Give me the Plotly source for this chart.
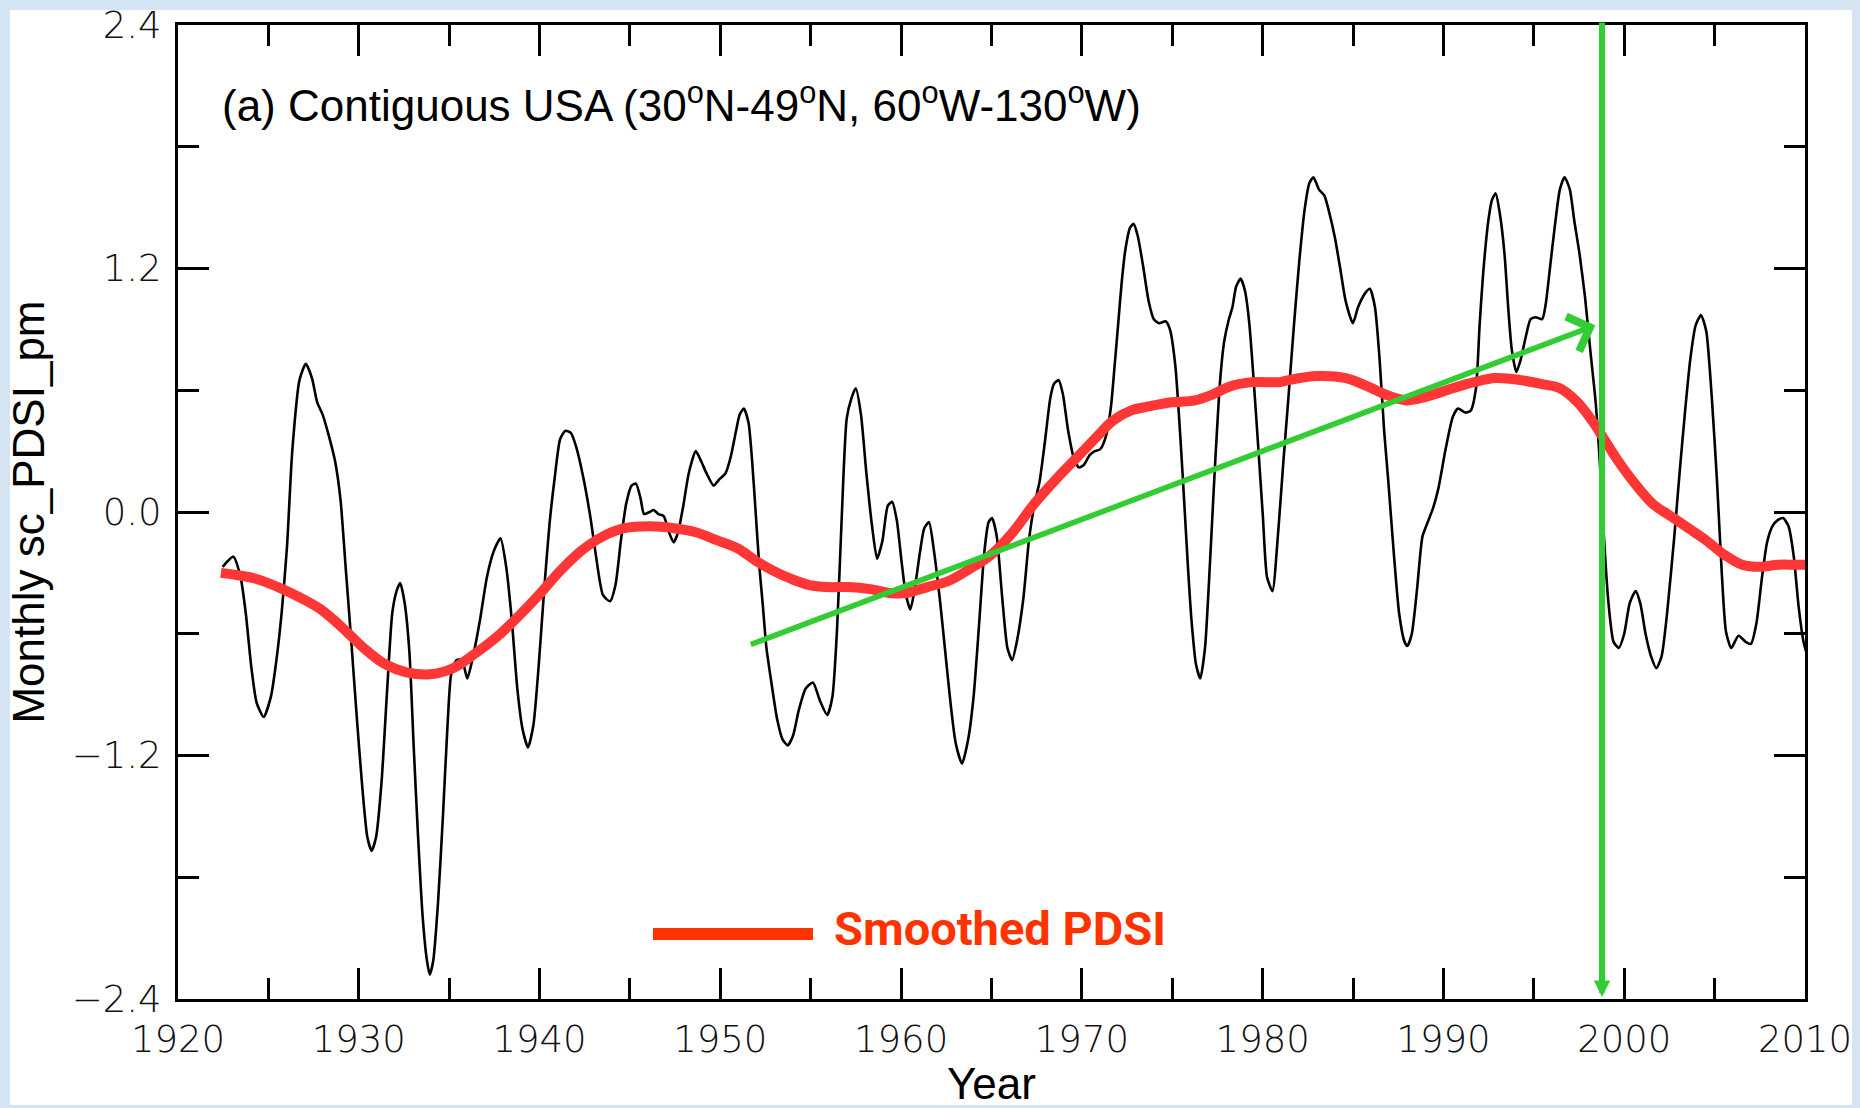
import plotly.graph_objects as go

# ---------------- data ----------------
pdsi_years = [
    1922.47, 1923.06, 1923.46, 1923.75, 1924.05, 1924.35, 1924.74, 1925.14, 1925.43, 1925.73,
    1926.03, 1926.32, 1926.72, 1927.07, 1927.41, 1927.70, 1928.00, 1928.30, 1928.69, 1928.99,
    1929.28, 1929.58, 1929.88, 1930.17, 1930.47, 1930.71, 1930.96, 1931.26, 1931.56, 1931.85,
    1932.09, 1932.29, 1932.54, 1932.80, 1933.04, 1933.28, 1933.53, 1933.77, 1933.93, 1934.12,
    1934.38, 1934.66, 1934.91, 1935.11, 1935.41, 1935.71, 1936.00, 1936.30, 1936.69, 1937.09,
    1937.48, 1937.84, 1938.17, 1938.47, 1938.77, 1939.06, 1939.36, 1939.66, 1939.95, 1940.25,
    1940.55, 1940.84, 1941.14, 1941.43, 1941.73, 1942.03, 1942.42, 1942.82, 1943.11, 1943.51,
    1943.90, 1944.20, 1944.50, 1944.79, 1945.09, 1945.33, 1945.58, 1945.78, 1946.08, 1946.31,
    1946.57, 1946.87, 1947.16, 1947.42, 1947.66, 1947.95, 1948.25, 1948.64, 1948.94, 1949.24,
    1949.63, 1949.93, 1950.28, 1950.57, 1950.87, 1951.07, 1951.30, 1951.56, 1951.76, 1951.96,
    1952.15, 1952.35, 1952.55, 1952.84, 1953.14, 1953.44, 1953.73, 1954.03, 1954.33, 1954.72,
    1955.12, 1955.51, 1955.91, 1956.20, 1956.46, 1956.70, 1956.99, 1957.25, 1957.49, 1957.78,
    1958.08, 1958.38, 1958.67, 1958.97, 1959.26, 1959.50, 1959.76, 1960.02, 1960.25, 1960.51,
    1960.75, 1961.04, 1961.28, 1961.54, 1961.83, 1962.13, 1962.42, 1962.72, 1963.02, 1963.37,
    1963.71, 1964.01, 1964.30, 1964.60, 1964.84, 1965.03, 1965.29, 1965.59, 1965.88, 1966.14,
    1966.42, 1966.77, 1967.07, 1967.36, 1967.66, 1967.96, 1968.25, 1968.45, 1968.71, 1968.95,
    1969.24, 1969.54, 1969.83, 1970.09, 1970.43, 1970.72, 1971.02, 1971.32, 1971.61, 1971.81,
    1972.01, 1972.20, 1972.40, 1972.66, 1972.86, 1973.09, 1973.39, 1973.69, 1973.98, 1974.28,
    1974.63, 1974.87, 1975.17, 1975.46, 1975.66, 1975.86, 1976.06, 1976.31, 1976.55, 1976.81,
    1977.08, 1977.34, 1977.64, 1977.87, 1978.13, 1978.33, 1978.53, 1978.78, 1979.02, 1979.26,
    1979.51, 1979.77, 1980.01, 1980.24, 1980.54, 1980.84, 1981.13, 1981.43, 1981.73, 1982.02,
    1982.32, 1982.58, 1982.81, 1983.11, 1983.41, 1983.70, 1984.00, 1984.29, 1984.59, 1984.99,
    1985.28, 1985.68, 1985.93, 1986.21, 1986.47, 1986.72, 1986.96, 1987.26, 1987.55, 1987.85,
    1988.01, 1988.25, 1988.54, 1988.84, 1989.13, 1989.43, 1989.73, 1990.12, 1990.52, 1990.81,
    1991.21, 1991.51, 1991.80, 1992.00, 1992.20, 1992.49, 1992.69, 1992.89, 1993.12, 1993.38,
    1993.58, 1993.78, 1994.03, 1994.27, 1994.57, 1994.82, 1995.10, 1995.46, 1995.65, 1995.89,
    1996.15, 1996.44, 1996.70, 1996.99, 1997.23, 1997.53, 1997.83, 1998.12, 1998.42, 1998.66,
    1998.85, 1999.11, 1999.41, 1999.70, 2000.00, 2000.30, 2000.63, 2000.89, 2001.18, 2001.48,
    2001.78, 2002.07, 2002.37, 2002.77, 2003.06, 2003.36, 2003.65, 2003.95, 2004.25, 2004.54,
    2004.84, 2005.14, 2005.39, 2005.63, 2005.92, 2006.32, 2006.72, 2007.01, 2007.31, 2007.61,
    2007.90, 2008.20, 2008.49, 2008.79, 2009.09, 2009.38, 2009.64, 2009.92, 2010.18, 2010.43,
]
pdsi_values = [
    -0.27, -0.22, -0.32, -0.50, -0.76, -0.94, -1.01, -0.91, -0.74, -0.50,
    -0.17, 0.30, 0.65, 0.73, 0.66, 0.54, 0.48, 0.39, 0.25, 0.06,
    -0.28, -0.63, -1.00, -1.33, -1.60, -1.67, -1.60, -1.33, -0.89, -0.50,
    -0.39, -0.35, -0.45, -0.69, -1.16, -1.60, -1.99, -2.21, -2.28, -2.21,
    -1.93, -1.49, -1.05, -0.80, -0.73, -0.73, -0.82, -0.72, -0.54, -0.32,
    -0.19, -0.13, -0.28, -0.54, -0.87, -1.07, -1.16, -1.05, -0.76, -0.39,
    -0.06, 0.17, 0.36, 0.40, 0.39, 0.32, 0.17, -0.03, -0.21, -0.41,
    -0.44, -0.36, -0.14, 0.04, 0.13, 0.14, 0.07, -0.01, 0.00, 0.01,
    -0.01, -0.02, -0.10, -0.15, -0.10, 0.03, 0.19, 0.30, 0.25, 0.19,
    0.13, 0.16, 0.19, 0.27, 0.40, 0.48, 0.51, 0.44, 0.25, -0.01,
    -0.26, -0.46, -0.67, -0.85, -1.02, -1.12, -1.15, -1.10, -0.98, -0.87,
    -0.84, -0.93, -1.00, -0.91, -0.57, -0.06, 0.46, 0.56, 0.61, 0.48,
    0.19, -0.06, -0.23, -0.14, 0.03, 0.05, -0.04, -0.24, -0.40, -0.48,
    -0.38, -0.20, -0.08, -0.05, -0.20, -0.42, -0.67, -0.93, -1.14, -1.24,
    -1.12, -0.91, -0.57, -0.20, -0.05, -0.03, -0.12, -0.42, -0.67, -0.73,
    -0.63, -0.42, -0.14, 0.03, 0.15, 0.35, 0.56, 0.63, 0.65, 0.58,
    0.40, 0.27, 0.22, 0.23, 0.28, 0.30, 0.31, 0.37, 0.52, 0.72,
    0.93, 1.13, 1.29, 1.40, 1.42, 1.36, 1.21, 1.04, 0.95, 0.93,
    0.94, 0.90, 0.72, 0.35, 0.05, -0.26, -0.53, -0.75, -0.82, -0.67,
    -0.26, 0.19, 0.64, 0.84, 0.95, 1.01, 1.11, 1.15, 1.09, 0.93,
    0.64, 0.30, -0.02, -0.32, -0.39, -0.12, 0.23, 0.57, 0.92, 1.23,
    1.49, 1.62, 1.65, 1.59, 1.56, 1.47, 1.35, 1.20, 1.04, 0.93,
    1.01, 1.08, 1.10, 1.01, 0.75, 0.40, 0.14, -0.21, -0.50, -0.64,
    -0.66, -0.60, -0.38, -0.12, -0.05, 0.02, 0.12, 0.31, 0.47, 0.51,
    0.49, 0.50, 0.61, 0.92, 1.18, 1.44, 1.54, 1.57, 1.47, 1.27,
    1.01, 0.80, 0.69, 0.75, 0.87, 0.95, 0.96, 0.95, 1.02, 1.20,
    1.40, 1.59, 1.65, 1.59, 1.44, 1.27, 1.06, 0.80, 0.54, 0.23,
    -0.08, -0.43, -0.64, -0.67, -0.60, -0.45, -0.39, -0.45, -0.60, -0.71,
    -0.77, -0.71, -0.50, -0.12, 0.19, 0.49, 0.75, 0.92, 0.97, 0.89,
    0.57, 0.14, -0.29, -0.59, -0.67, -0.61, -0.64, -0.65, -0.55, -0.33,
    -0.15, -0.07, -0.04, -0.03, -0.07, -0.22, -0.46, -0.64, -0.72, -0.78,
]

smooth_years = [
    1922.37, 1923.16, 1924.35, 1925.53, 1926.72, 1927.90, 1929.09, 1930.27, 1931.46, 1932.64,
    1933.93, 1935.21, 1936.40, 1937.58, 1938.77, 1939.95, 1941.14, 1942.32, 1943.51, 1944.69,
    1946.08, 1947.46, 1948.64, 1949.83, 1950.97, 1951.96, 1952.94, 1953.93, 1954.92, 1955.91,
    1957.09, 1958.28, 1959.46, 1960.25, 1961.44, 1962.62, 1963.81, 1964.99, 1966.18, 1967.36,
    1968.55, 1969.74, 1970.92, 1971.71, 1972.70, 1973.69, 1974.87, 1976.25, 1977.24, 1978.23,
    1979.41, 1980.96, 1981.43, 1983.01, 1984.59, 1985.78, 1986.76, 1987.95, 1989.13, 1990.52,
    1991.70, 1992.89, 1994.27, 1995.46, 1996.44, 1997.43, 1998.22, 1998.81, 1999.60, 2000.59,
    2001.58, 2002.57, 2003.55, 2004.54, 2005.53, 2006.52, 2007.51, 2008.50, 2009.49, 2010.43,
]
smooth_values = [
    -0.30, -0.31, -0.33, -0.37, -0.42, -0.48, -0.57, -0.67, -0.75, -0.79,
    -0.80, -0.77, -0.70, -0.62, -0.52, -0.41, -0.29, -0.19, -0.12, -0.08,
    -0.07, -0.08, -0.10, -0.14, -0.18, -0.24, -0.29, -0.33, -0.36, -0.37,
    -0.37, -0.38, -0.40, -0.40, -0.37, -0.34, -0.28, -0.21, -0.10, 0.04,
    0.16, 0.27, 0.38, 0.45, 0.50, 0.52, 0.54, 0.55, 0.58, 0.62,
    0.64, 0.64, 0.65, 0.67, 0.66, 0.62, 0.58, 0.55, 0.57, 0.61,
    0.64, 0.66, 0.65, 0.63, 0.61, 0.54, 0.45, 0.37, 0.26, 0.14,
    0.04, -0.02, -0.08, -0.14, -0.21, -0.26, -0.27, -0.26, -0.26, -0.26,
]

# green trend arrow (start, end) and vertical marker year
trend_start = (1951.6, -0.656)
trend_end = (1998.4, 0.92)
marker_year = 1998.77

x_ticks = [1920, 1930, 1940, 1950, 1960, 1970, 1980, 1990, 2000, 2010]
y_ticks = [-2.4, -1.2, 0.0, 1.2, 2.4]
y_tick_text = ["\u22122.4", "\u22121.2", "0.0", "1.2", "2.4"]

title_text = "(a) Contiguous USA (30<sup>o</sup>N-49<sup>o</sup>N, 60<sup>o</sup>W-130<sup>o</sup>W)"
legend_text = "Smoothed PDSI"

# ---------------- figure ----------------
W, H = 1860, 1108
L, R, T, B = 178, 55, 25, 109
pw, ph = W - L - R, H - T - B


def px_x(px):
    return (px - L) / pw


def px_y(py):
    return (H - B - py) / ph


GREEN = "#33CC33"
RED = "#FF3636"
LEG_RED = "#FF3300"

fig = go.Figure()

fig.add_trace(go.Scatter(
    x=pdsi_years, y=pdsi_values, mode="lines",
    line=dict(color="black", width=2.6, shape="spline", smoothing=0.6),
    showlegend=False, hoverinfo="skip",
))
fig.add_trace(go.Scatter(
    x=smooth_years, y=smooth_values, mode="lines",
    line=dict(color=RED, width=10, shape="spline", smoothing=1.0),
    showlegend=False, name=legend_text,
))

tick_font = dict(family="DejaVu Sans, sans-serif", size=37, color="#111111", weight=200)

fig.update_xaxes(
    range=[1920, 2010], tickvals=x_ticks, ticks="inside", ticklen=31, tickwidth=3,
    tickcolor="black", showline=True, linewidth=3, linecolor="black", mirror="ticks",
    showgrid=False, zeroline=False, tickfont=tick_font, ticklabelstandoff=6,
    minor=dict(dtick=5, ticks="inside", ticklen=21, tickwidth=3, tickcolor="black", showgrid=False),
    title=dict(text="Year", font=dict(family="Liberation Sans, Arial, sans-serif", size=44, color="black"),
               standoff=9),
)
fig.update_yaxes(
    range=[-2.4, 2.4], tickvals=y_ticks, ticktext=y_tick_text, ticks="inside", ticklen=31,
    tickwidth=3, tickcolor="black", showline=True, linewidth=3, linecolor="black", mirror="ticks",
    showgrid=False, zeroline=False, tickfont=tick_font, ticklabelstandoff=6,
    minor=dict(dtick=0.6, tick0=0, ticks="inside", ticklen=21, tickwidth=3, tickcolor="black", showgrid=False),
    title=dict(text="Monthly sc_PDSI_pm", font=dict(family="Liberation Sans, Arial, sans-serif", size=44, color="black"),
               standoff=14),
)

shapes = [
    # white panel over light blue page
    dict(type="rect", xref="paper", yref="paper", x0=px_x(10), x1=px_x(1852), y0=px_y(1105), y1=px_y(10),
         fillcolor="white", line=dict(width=0), layer="below"),
    # legend sample line
    dict(type="line", xref="paper", yref="paper", x0=px_x(653), x1=px_x(813), y0=px_y(934), y1=px_y(934),
         line=dict(color=LEG_RED, width=12)),
]

annotations = [
    dict(text=title_text, xref="paper", yref="paper", x=px_x(220), y=px_y(102), xanchor="left",
         yanchor="middle", showarrow=False,
         font=dict(family="Liberation Sans, Arial, sans-serif", size=44, color="black")),
    dict(text="<b>" + legend_text + "</b>", xref="paper", yref="paper", x=px_x(832), y=px_y(928),
         xanchor="left", yanchor="middle", showarrow=False,
         font=dict(family="Roboto, Liberation Sans, sans-serif", size=47, color=LEG_RED)),
    # trend arrow
    dict(x=trend_end[0], y=trend_end[1], ax=trend_start[0], ay=trend_start[1], xref="x", yref="y",
         axref="x", ayref="y", showarrow=True, arrowhead=4, arrowsize=1.3, arrowwidth=5.5,
         arrowcolor=GREEN, text=""),
    # vertical marker arrow
    dict(x=marker_year, y=-2.39, ax=marker_year, ay=2.42, xref="x", yref="y", axref="x", ayref="y",
         showarrow=True, arrowhead=2, arrowsize=0.55, arrowwidth=6, arrowcolor=GREEN, text=""),
]

fig.update_layout(
    width=W, height=H,
    margin=dict(l=L, r=R, t=T, b=B, autoexpand=False),
    paper_bgcolor="#d5e4f3", plot_bgcolor="white",
    shapes=shapes, annotations=annotations, showlegend=False,
)

fig.write_html("out.html")
